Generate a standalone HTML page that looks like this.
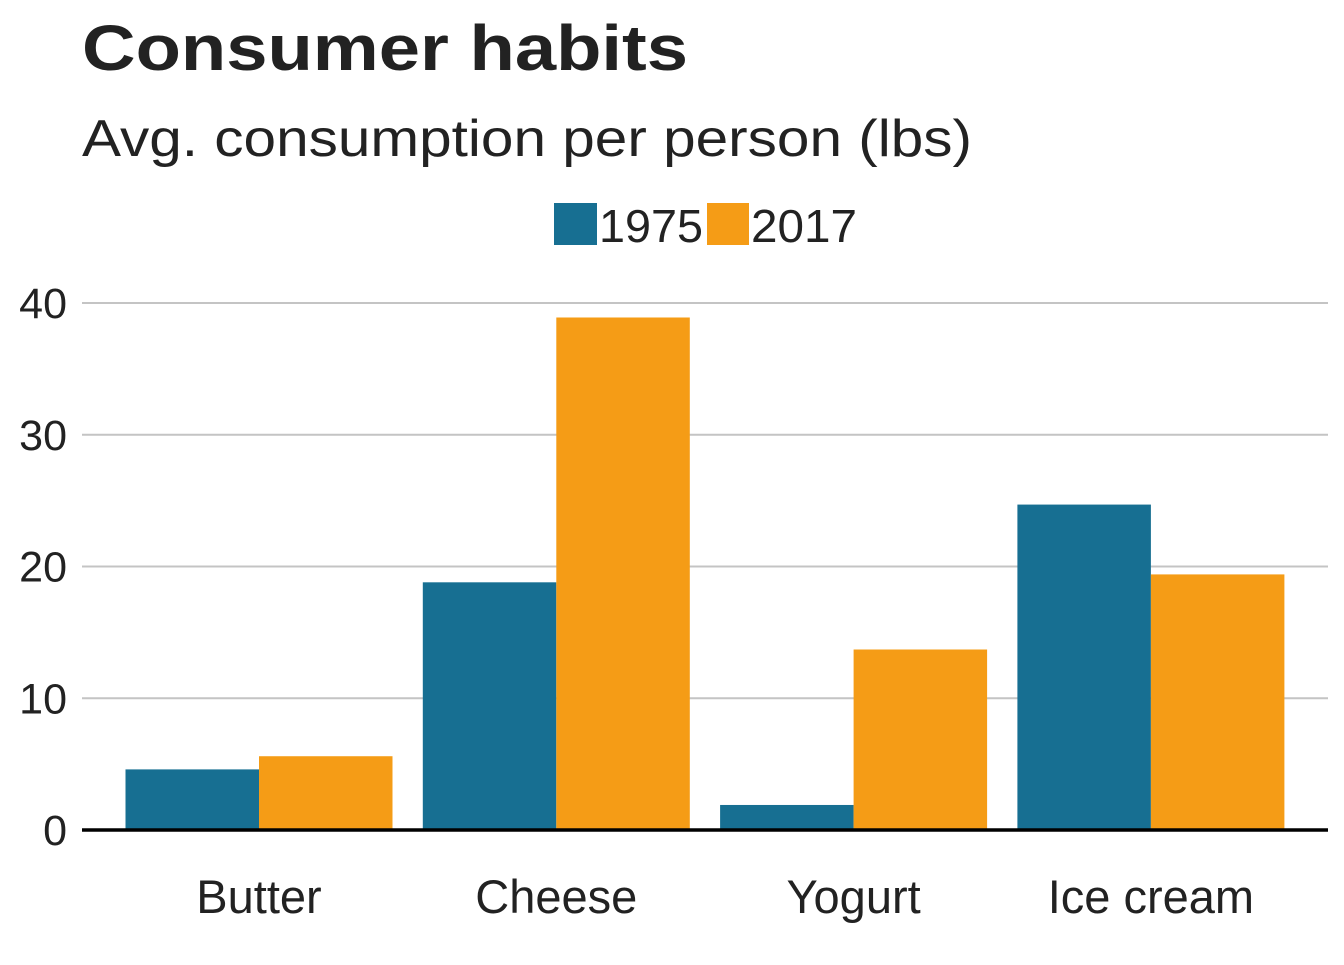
<!DOCTYPE html>
<html><head><meta charset="utf-8"><style>
body{margin:0;background:#fff;}
svg text{font-family:"Liberation Sans",Arial,sans-serif;fill:#222;}
</style></head><body>
<svg id="c" width="1344" height="960">
<text x="82" y="70" font-size="64" font-weight="bold" textLength="606" lengthAdjust="spacingAndGlyphs">Consumer habits</text>
<text x="82" y="156" font-size="52" textLength="890" lengthAdjust="spacingAndGlyphs">Avg. consumption per person (lbs)</text>
<g>
<rect x="554" y="203" width="43" height="42" fill="#176F92"/>
<text x="599" y="242" font-size="46" textLength="104" lengthAdjust="spacingAndGlyphs">1975</text>
<rect x="707" y="203" width="42" height="42" fill="#F59C16"/>
<text x="751" y="242" font-size="46" textLength="106" lengthAdjust="spacingAndGlyphs">2017</text>
</g>
<g id="grid"></g><g id="bars"></g><g id="xl"></g>
</svg>
<script>
const categories=["Butter","Cheese","Yogurt","Ice cream"];
const values1975=[4.6,18.8,1.9,24.7];
const values2017=[5.6,38.9,13.7,19.4];
const yTicks=[0,10,20,30,40];
const ns="http://www.w3.org/2000/svg";
const y=v=>830-v*13.175;
const cx=i=>259+i*297.3;
const bw=133.5;
function mk(t,a,p){const e=document.createElementNS(ns,t);for(const k in a)e.setAttribute(k,a[k]);p.appendChild(e);return e;}
const g=document.getElementById('grid');
yTicks.forEach(t=>{
 if(t>0){const l=mk('line',{x1:82,x2:1328,y1:y(t),y2:y(t),stroke:'#c4c4c4','stroke-width':2},g);
 
 }
 const tx=mk('text',{x:67,y:y(t)+15,'font-size':43,'text-anchor':'end'},g);tx.textContent=t;
 
 
});
const b=document.getElementById('bars');
categories.forEach((c,i)=>{
 const r1=mk('rect',{x:cx(i)-bw,y:y(values1975[i]),width:bw,height:830-y(values1975[i]),fill:'#176F92'},b);
 
 
 const r2=mk('rect',{x:cx(i),y:y(values2017[i]),width:bw,height:830-y(values2017[i]),fill:'#F59C16'},b);
 
 
 const t=mk('text',{x:cx(i),y:913,'font-size':47,'text-anchor':'middle'},document.getElementById('xl'));t.textContent=c;
 
 
});
const base=mk('line',{x1:82,x2:1328,y1:830,y2:830,stroke:'#000','stroke-width':3.5},document.getElementById('c'));


</script>
</body></html>
